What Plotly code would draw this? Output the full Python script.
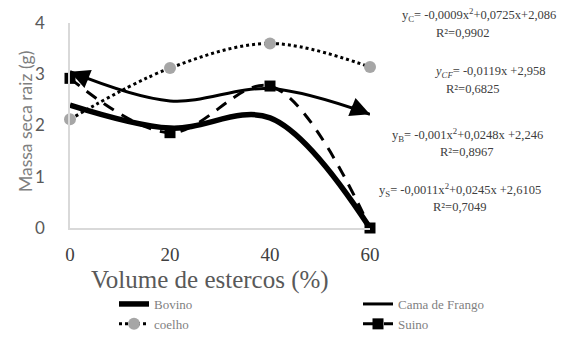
import plotly.graph_objects as go

volume = [0, 20, 40, 60]
bovino = [2.40, 1.95, 2.15, 0.0]
cama_frango = [3.05, 2.48, 2.72, 2.22]
coelho = [2.12, 3.12, 3.60, 3.14]
suino = [2.92, 1.86, 2.77, 0.0]

equations = [
    ("y<sub>C</sub>= -0,0009x<sup>2</sup>+0,0725x+2,086", 479, 15),
    ("R²=0,9902", 463, 33),
    ("<i>y<sub>CF</sub></i>= -0,0119x +2,958", 490, 72),
    ("R²=0,6825", 473, 89),
    ("y<sub>B</sub>= -0,001x<sup>2</sup>+0,0248x +2,246", 467, 135),
    ("R²=0,8967", 467, 152),
    ("y<sub>S</sub>= -0,0011x<sup>2</sup>+0,0245x +2,6105", 460, 190),
    ("R²=0,7049", 460, 207),
]

W, H = 574, 338
ML, MR, MT, MB = 70, 204, 23, 110
PW, PH = W - ML - MR, H - MT - MB
SERIF = "Liberation Serif, Times New Roman, serif"

fig = go.Figure()
fig.add_trace(go.Scatter(x=volume, y=bovino, name="Bovino", mode="lines", legend="legend",
                         line=dict(color="black", width=5.5, shape="spline", smoothing=1.0)))
fig.add_trace(go.Scatter(x=volume, y=coelho, name="coelho", mode="lines+markers", legend="legend",
                         line=dict(color="black", width=3, dash="dot", shape="spline", smoothing=1.0),
                         marker=dict(color="#a6a6a6", size=12, symbol="circle")))
fig.add_trace(go.Scatter(x=volume, y=cama_frango, name="Cama de Frango", mode="lines", legend="legend2",
                         line=dict(color="black", width=3, shape="spline", smoothing=1.0)))
fig.add_trace(go.Scatter(x=volume, y=suino, name="Suino", mode="lines+markers", legend="legend2",
                         line=dict(color="black", width=3, dash="12px,9px", shape="spline", smoothing=1.0),
                         marker=dict(color="black", size=11, symbol="square")))

# arrowheads on Cama de Frango line ends
fig.add_annotation(x=volume[0], y=cama_frango[0], ax=20, ay=8, xref="x", yref="y",
                   axref="pixel", ayref="pixel", showarrow=True, arrowhead=2,
                   arrowsize=1.3, arrowwidth=3, arrowcolor="black", text="")
fig.add_annotation(x=volume[-1], y=cama_frango[-1], ax=-20, ay=-8, xref="x", yref="y",
                   axref="pixel", ayref="pixel", showarrow=True, arrowhead=2,
                   arrowsize=1.3, arrowwidth=3, arrowcolor="black", text="")

for txt, px, py in equations:
    fig.add_annotation(text=txt, x=(px - ML) / PW, y=(H - MB - py) / PH,
                       xref="paper", yref="paper", xanchor="center", yanchor="middle",
                       showarrow=False,
                       font=dict(family=SERIF, size=12.5, color="#404040"))

# axis titles placed as annotations to match reference spacing
fig.add_annotation(text="Volume de estercos (%)", x=(210 - ML) / PW, y=(H - MB - 280) / PH,
                   xref="paper", yref="paper", xanchor="center", yanchor="middle",
                   showarrow=False,
                   font=dict(family=SERIF, size=25, color="#595959"))
fig.add_annotation(text="Massa seca raiz (g)", x=(25 - ML) / PW, y=(H - MB - 122) / PH,
                   xref="paper", yref="paper", xanchor="center", yanchor="middle",
                   textangle=-90, showarrow=False,
                   font=dict(family="Lato", size=17.5, color="#7f7f7f"))

legfont = dict(family=SERIF, size=13, color="#7f7f7f")
legy = (H - MB - 289) / PH
fig.update_layout(
    width=W, height=H,
    margin=dict(l=ML, r=MR, t=MT, b=MB, autoexpand=False),
    paper_bgcolor="white", plot_bgcolor="white",
    showlegend=True,
    legend=dict(orientation="v", x=(114 - ML) / PW, xanchor="left", y=legy, yanchor="top",
                font=legfont, tracegroupgap=0, bgcolor="rgba(0,0,0,0)"),
    legend2=dict(orientation="v", x=(358 - ML) / PW, xanchor="left", y=legy, yanchor="top",
                 font=legfont, tracegroupgap=0, bgcolor="rgba(0,0,0,0)"),
    xaxis=dict(range=[0, 60], tickvals=volume, showgrid=False, zeroline=False,
               showline=True, linecolor="#d9d9d9", linewidth=1.5,
               ticks="", ticklabelstandoff=8,
               tickfont=dict(family=SERIF, size=19, color="#404040")),
    yaxis=dict(range=[0, 4], tickvals=[0, 1, 2, 3, 4], showgrid=False, zeroline=False,
               showline=True, linecolor="#d9d9d9", linewidth=1.5,
               ticks="", ticklabelstandoff=20,
               tickfont=dict(family="Lato", size=17, color="#595959")),
)
fig.update_traces(cliponaxis=False)

fig.write_html("out.html", config={"displayModeBar": False},
               post_script="document.body.style.margin='0';document.body.style.overflow='hidden';")
